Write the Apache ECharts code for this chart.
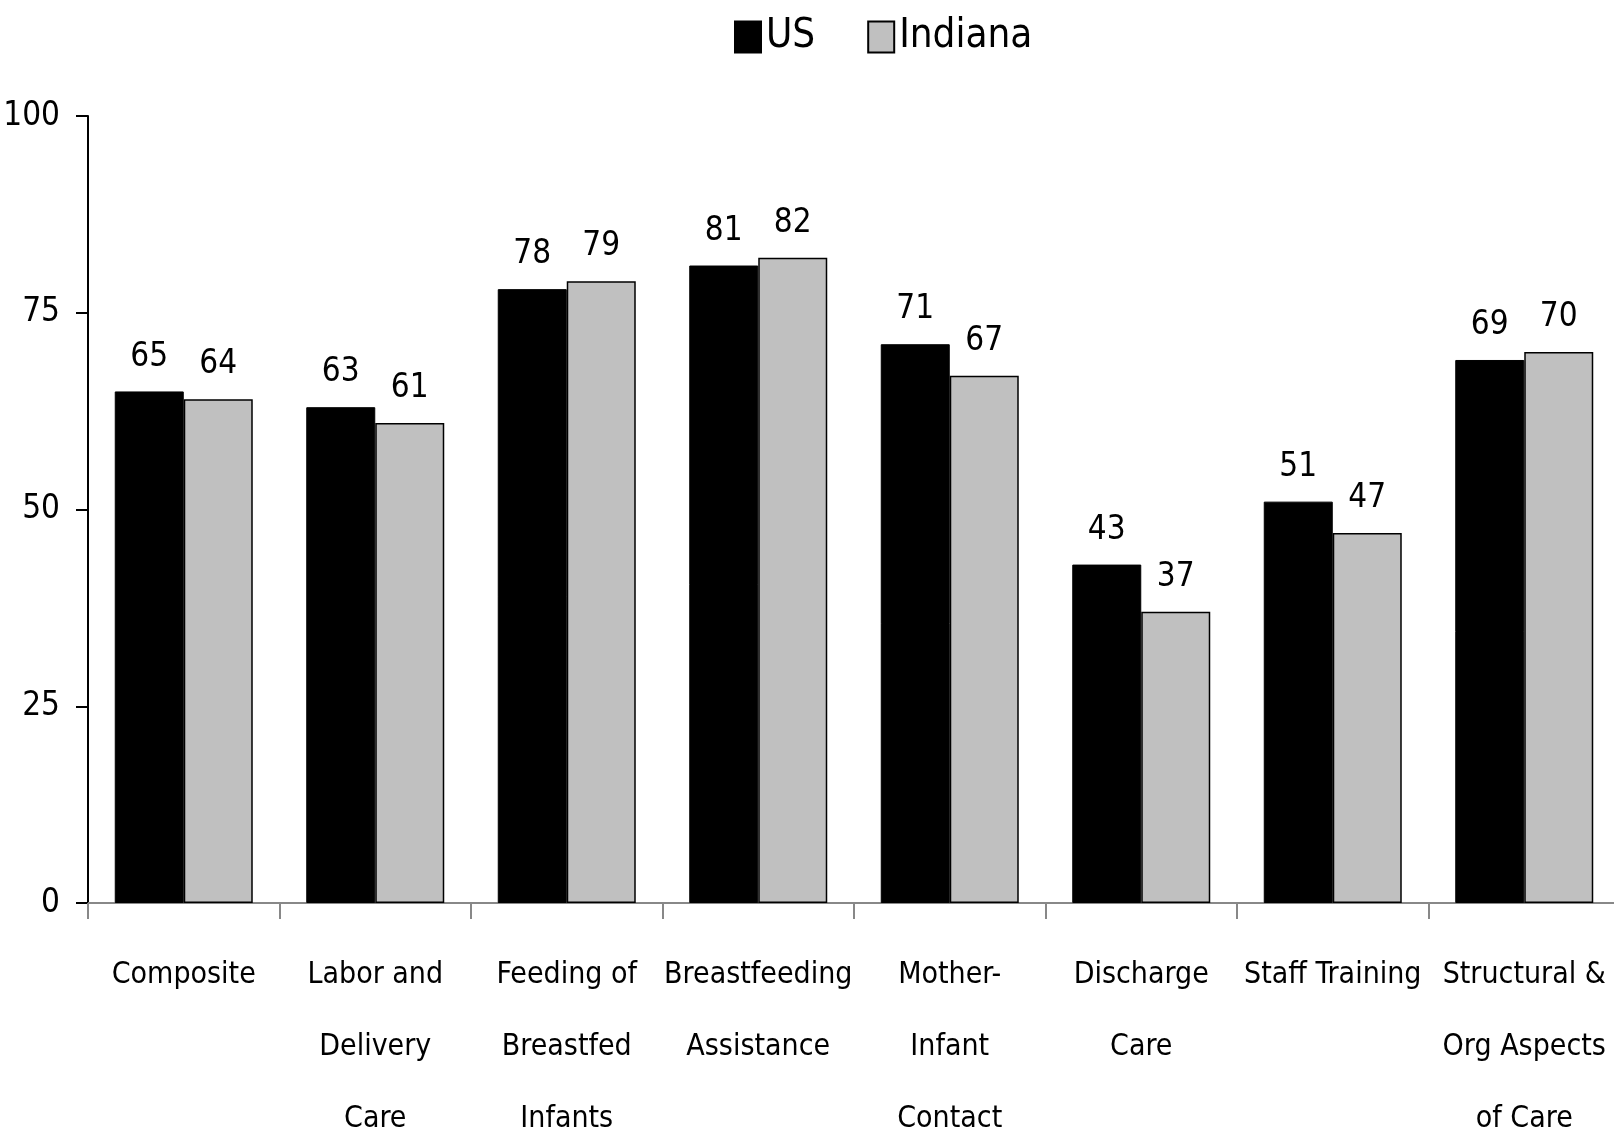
<!DOCTYPE html>
<html><head><meta charset="utf-8">
<script src="https://cdn.jsdelivr.net/npm/echarts@6/dist/echarts.min.js"></script>
<style>html,body{margin:0;padding:0;background:#fff}#c{width:1614px;height:1135px}</style>
</head><body><div id="c"></div>
<script>
const categories = ['Composite','Labor and\nDelivery\nCare','Feeding of\nBreastfed\nInfants','Breastfeeding\nAssistance','Mother-\nInfant\nContact','Discharge\nCare','Staff Training','Structural &\nOrg Aspects\nof Care'];
const usValues = [65,63,78,81,71,43,51,69];
const indianaValues = [64,61,79,82,67,37,47,70];
const yTicks = [0,25,50,75,100];
const FONT = '"DejaVu Sans Condensed","Liberation Sans",sans-serif';
const chart = echarts.init(document.getElementById('c'));
const lbl = {show:true, position:'top', distance:18, color:'#000', fontFamily:FONT, fontSize:33};
chart.setOption({
  animation:false,
  legend:{left:729, top:12, itemWidth:26, itemHeight:31, itemGap:52, icon:'rect',
    textStyle:{fontFamily:FONT, fontSize:40, color:'#000'},
    data:[{name:'US'},{name:'Indiana'}]},
  grid:{left:88, top:116, bottom:232, right:-6, containLabel:false, outerBoundsMode:'none'},
  xAxis:{type:'category', data:categories,
    axisLine:{lineStyle:{color:'#888', width:2}},
    axisTick:{show:true, length:16, lineStyle:{color:'#888', width:2}},
    axisLabel:{interval:0, margin:36, fontFamily:FONT, fontSize:30, lineHeight:72, color:'#000'}},
  yAxis:{type:'value', min:0, max:100, interval:25,
    splitLine:{show:false},
    axisLine:{show:true, lineStyle:{color:'#000', width:2}},
    axisTick:{show:true, length:12, lineStyle:{color:'#000', width:2}},
    axisLabel:{margin:28, fontFamily:FONT, fontSize:33, color:'#000',
      formatter:v=>yTicks.includes(v)?String(v):''}},
  series:[
    {name:'US', type:'bar', data:usValues, barWidth:69, barGap:'0%',
      itemStyle:{color:'#000', borderColor:'#000', borderWidth:1}, label:lbl},
    {name:'Indiana', type:'bar', data:indianaValues, barWidth:69,
      itemStyle:{color:'#c0c0c0', borderColor:'#000', borderWidth:1.5}, label:lbl}
  ]
});
</script></body></html>
